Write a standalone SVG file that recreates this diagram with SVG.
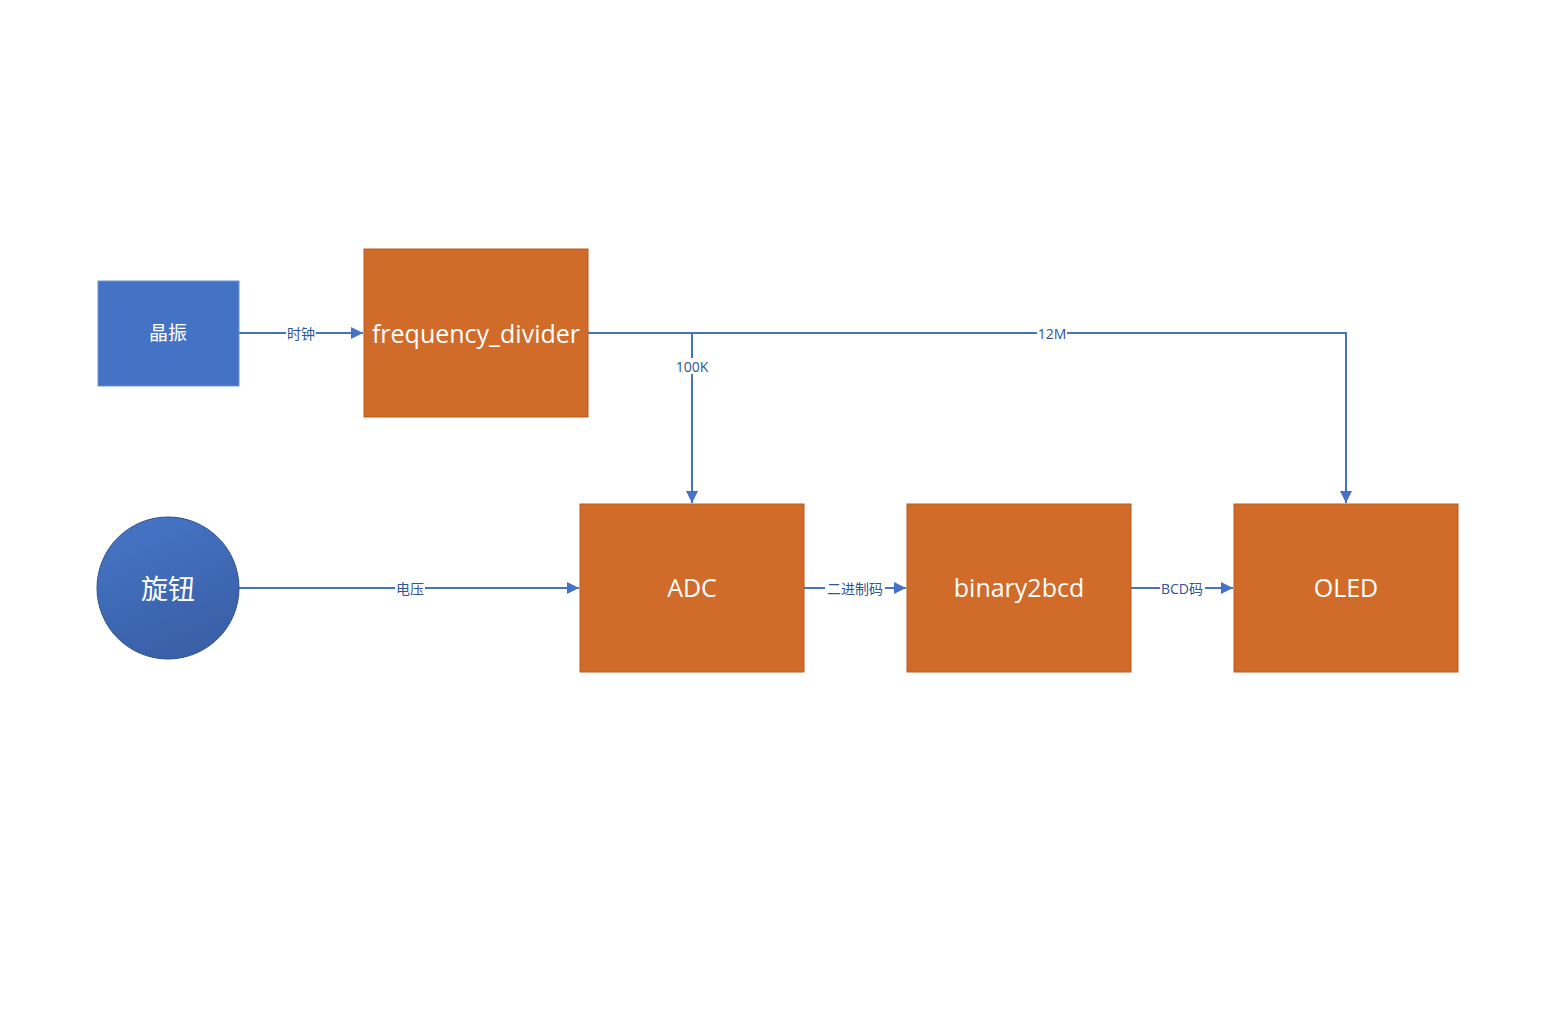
<svg xmlns="http://www.w3.org/2000/svg" width="1563" height="1019" viewBox="0 0 1563 1019">
<style>
.box{fill:#D06B2A;stroke:#B85A1E;stroke-width:1}
.t{fill:#fff;font-family:"Open Sans","Noto Sans CJK SC",sans-serif;text-anchor:middle;dominant-baseline:central}
.c{fill:none;stroke:#4472C4;stroke-width:2}
.lb{fill:#2F5597;font-family:"Open Sans","Noto Sans CJK SC",sans-serif;font-size:14px;text-anchor:middle;dominant-baseline:central}
.bg{fill:#fff}
</style>
<defs>
<marker id="arr" viewBox="0 0 12 12" refX="12" refY="6" markerWidth="12" markerHeight="12" markerUnits="userSpaceOnUse" orient="auto">
<path d="M0,0 L12,6 L0,12 Z" fill="#4472C4"/>
</marker>
<linearGradient id="g" x1="0" y1="0" x2="0.4" y2="1">
<stop offset="0" stop-color="#4676C8"/>
<stop offset="1" stop-color="#3A60A8"/>
</linearGradient>
</defs>
<rect width="1563" height="1019" fill="#fff"/>
<g id="connectors">
<path class="c" d="M239,333 H363" marker-end="url(#arr)"/>
<path class="c" d="M588,333 H692 V503" marker-end="url(#arr)"/>
<path class="c" d="M588,333 H1346 V503" marker-end="url(#arr)"/>
<path class="c" d="M239,588 H579" marker-end="url(#arr)"/>
<path class="c" d="M804,588 H906" marker-end="url(#arr)"/>
<path class="c" d="M1131,588 H1233" marker-end="url(#arr)"/>
<rect class="bg" x="286" y="325" width="30" height="16"/>
<text class="lb" x="301" y="333">时钟</text>
<rect class="bg" x="675" y="358" width="34" height="16"/>
<text class="lb" x="692" y="366">100K</text>
<rect class="bg" x="1037" y="325" width="30" height="16"/>
<text class="lb" x="1052" y="333">12M</text>
<rect class="bg" x="395" y="580" width="30" height="16"/>
<text class="lb" x="410" y="588">电压</text>
<rect class="bg" x="825" y="580" width="60" height="16"/>
<text class="lb" x="855" y="588">二进制码</text>
<rect class="bg" x="1160" y="580" width="45" height="16"/>
<text class="lb" x="1182" y="588">BCD码</text>
</g>
<g id="crystal">
<rect x="98" y="281" width="141" height="105" fill="#4472C4" stroke="#6F93D3" stroke-width="1"/>
<text class="t" x="168" y="333" font-size="19">晶振</text>
</g>
<g id="freq_div">
<rect class="box" x="364" y="249" width="224" height="168"/>
<text class="t" x="476" y="333" font-size="25">frequency_divider</text>
</g>
<g id="knob">
<circle cx="168" cy="588" r="71" fill="url(#g)" stroke="#2F528F" stroke-width="1"/>
<text class="t" x="168" y="588" font-size="27">旋钮</text>
</g>
<g id="adc">
<rect class="box" x="580" y="504" width="224" height="168"/>
<text class="t" x="692" y="587" font-size="25">ADC</text>
</g>
<g id="b2bcd">
<rect class="box" x="907" y="504" width="224" height="168"/>
<text class="t" x="1019" y="587" font-size="25">binary2bcd</text>
</g>
<g id="oled">
<rect class="box" x="1234" y="504" width="224" height="168"/>
<text class="t" x="1346" y="587" font-size="25">OLED</text>
</g>
</svg>
